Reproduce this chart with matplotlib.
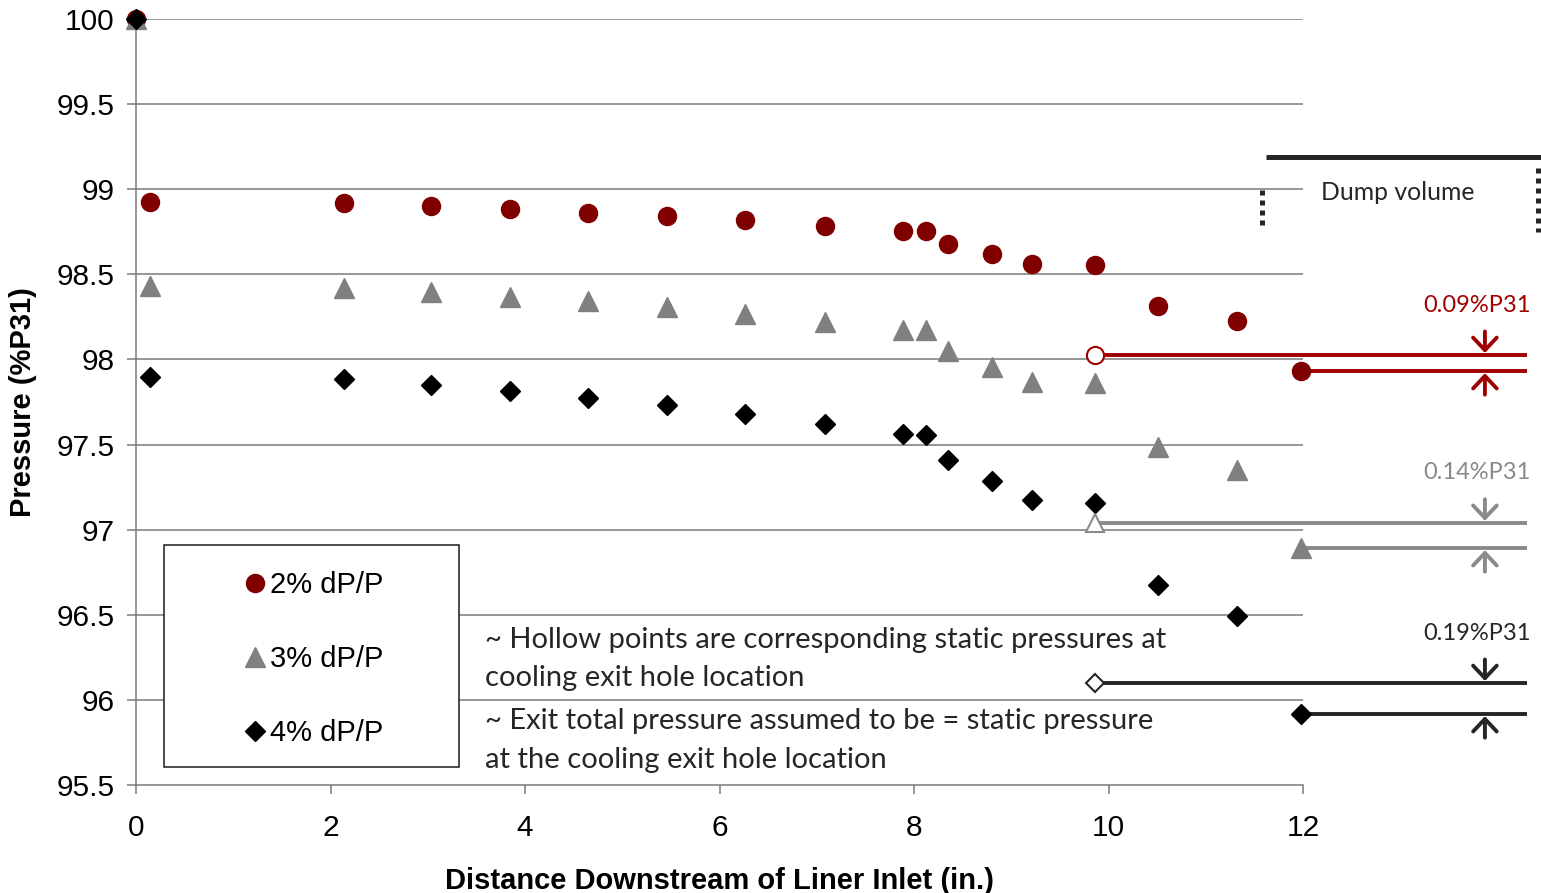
import matplotlib.pyplot as plt
import numpy as np

# distance downstream of liner inlet (in.)
x = [0, 0.14, 2.14, 3.03, 3.84, 4.65, 5.46, 6.26, 7.08, 7.89, 8.12, 8.35, 8.80, 9.21, 9.86, 10.51, 11.32, 11.98]
p2 = [100, 98.925, 98.919, 98.901, 98.884, 98.860, 98.843, 98.819, 98.784, 98.754, 98.754,
      98.678, 98.619, 98.560, 98.555, 98.314, 98.226, 97.932]
p3 = [100, 98.431, 98.420, 98.396, 98.367, 98.343, 98.308, 98.267, 98.220, 98.173, 98.173,
      98.050, 97.955, 97.867, 97.861, 97.485, 97.350, 96.892]
p4 = [100, 97.897, 97.885, 97.850, 97.814, 97.773, 97.732, 97.679, 97.620, 97.562, 97.556,
      97.409, 97.286, 97.174, 97.156, 96.674, 96.492, 95.917]

# hollow points: static pressure at cooling exit hole location
x_hole = 9.86
p_hole = [98.026, 97.04, 96.099]
drop_labels = ['0.09%P31', '0.14%P31', '0.19%P31']

series_labels = ['2% dP/P', '3% dP/P', '4% dP/P']
xticks = [0, 2, 4, 6, 8, 10, 12]
yticks = [95.5, 96, 96.5, 97, 97.5, 98, 98.5, 99, 99.5, 100]
ytick_labels = ['95.5', '96', '96.5', '97', '97.5', '98', '98.5', '99', '99.5', '100']

cols = ['#800000', '#808080', '#000000']
line_cols = ['#a00000', '#8a8a8a', '#262626']
marks = ['o', '^', 'D']
msizes = [13, 14, 10]
calibri = ['Lato', 'DejaVu Sans']

plt.rcParams['font.family'] = ['Liberation Sans', 'DejaVu Sans']

fig = plt.figure(figsize=(15.41, 8.93), dpi=100)
ax = fig.add_axes([0.0883, 0.1209, 0.7573, 0.8578])
ax.set_xlim(0, 12)
ax.set_ylim(95.5, 100)

for yv in yticks[1:]:
    ax.axhline(yv, color='#7a7a7a', lw=1.1, zorder=1)

for sp in ['top', 'right']:
    ax.spines[sp].set_visible(False)
for sp in ['left', 'bottom']:
    ax.spines[sp].set_color('#7a7a7a')
    ax.spines[sp].set_linewidth(1.1)

ax.set_xticks(xticks)
ax.set_yticks(yticks)
ax.set_yticklabels(ytick_labels)
ax.tick_params(axis='both', labelsize=21.5, color='#7a7a7a', length=6.5, width=1.1, direction='out')
ax.tick_params(axis='x', pad=14)
ax.tick_params(axis='y', pad=9)

ax.set_xlabel('Distance Downstream of Liner Inlet (in.)', fontsize=21, fontweight='bold', labelpad=18)
ax.set_ylabel('Pressure (%P31)', fontsize=21, fontweight='bold', labelpad=14)

# exit lines with arrows
x_exit = x[-1]
x_end = 14.30
x_arrow = 13.87
exit_vals = [p2[-1], p3[-1], p4[-1]]
arrow_style = '->,head_length=0.9,head_width=0.85'
for i in range(3):
    ax.plot([x_hole, x_end], [p_hole[i], p_hole[i]], color=line_cols[i], lw=2.8,
            clip_on=False, zorder=2, solid_capstyle='butt')
    ax.plot([x_exit, x_end], [exit_vals[i], exit_vals[i]], color=line_cols[i], lw=2.8,
            clip_on=False, zorder=2, solid_capstyle='butt')
    ax.annotate('', xy=(x_arrow, p_hole[i]), xytext=(0, 17), textcoords='offset points',
                xycoords='data', annotation_clip=False,
                arrowprops=dict(arrowstyle=arrow_style, color=line_cols[i], lw=2.8,
                                shrinkA=0, shrinkB=1.5))
    ax.annotate('', xy=(x_arrow, exit_vals[i]), xytext=(0, -17), textcoords='offset points',
                xycoords='data', annotation_clip=False,
                arrowprops=dict(arrowstyle=arrow_style, color=line_cols[i], lw=2.8,
                                shrinkA=0, shrinkB=1.5))
    ax.annotate(drop_labels[i], xy=(x_arrow, p_hole[i]), xytext=(-6, 36),
                textcoords='offset points', ha='center', va='center', fontsize=17,
                color=line_cols[i], family=calibri, annotation_clip=False)

# data series
for i, ys in enumerate([p2, p3, p4]):
    ax.plot(x, ys, ls='none', marker=marks[i], ms=msizes[i], color=cols[i],
            mec=cols[i], clip_on=False, zorder=4, label=series_labels[i])
    ax.plot([x_hole], [p_hole[i]], ls='none', marker=marks[i], ms=msizes[i] * 0.95,
            mfc='white', mec=line_cols[i], mew=1.5, clip_on=False, zorder=5)

# legend box
rect = plt.Rectangle((0.024, 0.024), 0.253, 0.29, transform=ax.transAxes,
                     fill=True, facecolor='white', edgecolor='#1a1a1a', lw=1.1, zorder=6)
ax.add_patch(rect)
leg = ax.legend(loc='center', bbox_to_anchor=(0.152, 0.164), frameon=False, fontsize=21,
                labelspacing=1.58, handlelength=0.8, handletextpad=0.1, borderpad=0,
                numpoints=1)
leg.set_zorder(7)

# notes
note_kw = dict(fontsize=21, family=calibri, color='#262626', va='center', zorder=3)
ax.text(3.59, 96.351, '~ Hollow points are corresponding static pressures at', **note_kw)
ax.text(3.59, 96.128, 'cooling exit hole location', **note_kw)
ax.text(3.59, 95.875, '~ Exit total pressure assumed to be = static pressure', **note_kw)
ax.text(3.59, 95.646, 'at the cooling exit hole location', **note_kw)

# dump volume sketch
ax.plot([11.62, 14.45], [99.189, 99.189], color='#262626', lw=3.6, clip_on=False,
        solid_capstyle='butt')
ax.plot([11.58, 11.58], [98.995, 98.76], color='#262626', lw=3.6, ls=(0, (1, 1)),
        clip_on=False)
ax.plot([14.42, 14.42], [99.125, 98.75], color='#262626', lw=3.6, ls=(0, (1, 1)),
        clip_on=False)
ax.text(12.97, 98.978, 'Dump volume', fontsize=17.8, family=calibri, color='#262626',
        ha='center', va='center')

fig.savefig('out.png', dpi=100)
